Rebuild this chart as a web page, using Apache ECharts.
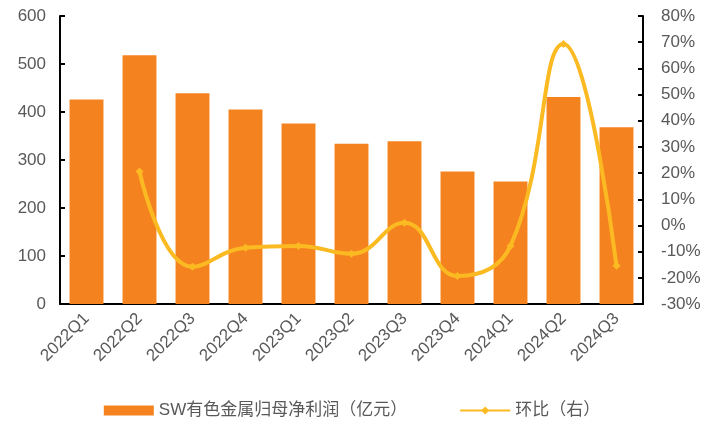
<!DOCTYPE html>
<html lang="zh">
<head>
    <meta charset="utf-8"/>
    <title>SW有色金属归母净利润</title>
    <script src="https://cdn.jsdelivr.net/npm/echarts@6/dist/echarts.min.js"></script>
    <style>
        html, body { margin: 0; padding: 0; background: #fff; }
        #chart { width: 704px; height: 424px; }
    </style>
</head>
<body>
    <div id="chart"></div>
    <script>
        // 季度
        const quarters = ['2022Q1', '2022Q2', '2022Q3', '2022Q4', '2023Q1', '2023Q2', '2023Q3', '2023Q4', '2024Q1', '2024Q2', '2024Q3'];
        // 归母净利润（亿元）
        const profit = [426, 518, 439, 405, 376, 334, 339, 276, 255, 431, 368];
        // 环比（%）
        const qoq = [null, 20.6, -15.8, -8.5, -7.8, -10.8, 1.0, -19.3, -7.8, 69.3, -15.4];

        const font = '"Liberation Sans", Arial, "Noto Sans CJK SC", sans-serif';
        const labelColor = '#595959';

        const chart = echarts.init(document.getElementById('chart'));
        const option = {
            animation: false,
            textStyle: { fontFamily: font },
            grid: { left: 60, right: 61, top: 16, bottom: 120 },
            legend: {
                bottom: 0,
                itemGap: 52,
                itemWidth: 50,
                itemHeight: 10,
                textStyle: { fontSize: 17, color: labelColor, fontFamily: font },
                data: [
                    { name: 'SW有色金属归母净利润（亿元）', icon: 'rect' },
                    { name: '环比（右）' }
                ]
            },
            xAxis: {
                type: 'category',
                data: quarters,
                axisLine: { lineStyle: { color: '#000', width: 2 } },
                axisTick: { inside: true, length: 5, lineStyle: { color: '#000', width: 2 } },
                axisLabel: { rotate: 45, fontSize: 17, color: labelColor, margin: 12 }
            },
            yAxis: [
                {
                    type: 'value',
                    min: 0, max: 600, interval: 100,
                    splitLine: { show: false },
                    axisLine: { show: true, lineStyle: { color: '#000', width: 2 } },
                    axisTick: { show: true, inside: true, length: 5, lineStyle: { color: '#000', width: 2 } },
                    axisLabel: { fontSize: 17, color: labelColor, margin: 14 }
                },
                {
                    type: 'value',
                    min: -30, max: 80, interval: 10,
                    splitLine: { show: false },
                    axisLine: { show: true, lineStyle: { color: '#000', width: 2 } },
                    axisTick: { show: true, inside: true, length: 5, lineStyle: { color: '#000', width: 2 } },
                    axisLabel: { fontSize: 17, color: labelColor, margin: 18, formatter: '{value}%' }
                }
            ],
            series: [
                {
                    name: 'SW有色金属归母净利润（亿元）',
                    type: 'bar',
                    data: profit,
                    barWidth: '64%',
                    itemStyle: { color: '#F4831F' }
                },
                {
                    name: '环比（右）',
                    type: 'line',
                    yAxisIndex: 1,
                    data: qoq,
                    smooth: 0.45,
                    symbol: 'diamond',
                    symbolSize: 8,
                    lineStyle: { color: '#FBBA22', width: 4 },
                    itemStyle: { color: '#FBBA22' }
                }
            ]
        };
        chart.setOption(option);
    </script>
</body>
</html>
